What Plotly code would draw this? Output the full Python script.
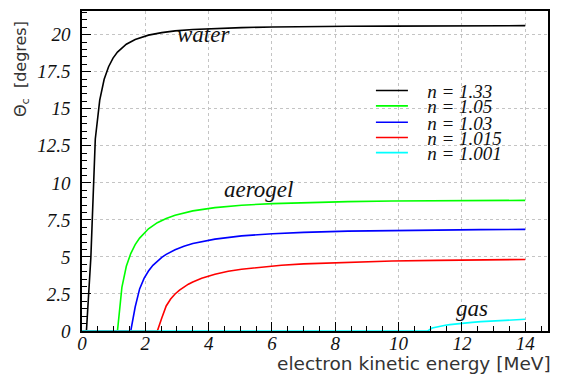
import plotly.graph_objects as go

# Cherenkov half-angle (degrees) versus electron kinetic energy (MeV)
t_water = [0, 0.14, 0.28, 0.42, 0.56, 0.70, 0.84, 0.98, 1.12, 1.26, 1.40, 1.68, 2.10, 2.52,
           2.94, 3.50, 4.20, 5.04, 6.02, 7.00, 8.40, 9.80, 11.20, 12.60, 14.00]
th_water = [0, 0, 4.97, 12.96, 15.59, 16.99, 17.84, 18.42, 18.83, 19.13, 19.36, 19.68, 19.97, 20.14,
            20.26, 20.35, 20.43, 20.48, 20.52, 20.55, 20.57, 20.58, 20.59, 20.60, 20.61]

t_n105 = [0, 1.12, 1.26, 1.40, 1.54, 1.68, 1.82, 1.96, 2.10, 2.38, 2.66, 2.94, 3.50,
          4.20, 5.04, 6.02, 7.00, 8.40, 9.80, 11.20, 12.60, 14.00]
th_n105 = [0, 0, 2.95, 4.37, 5.23, 5.83, 6.27, 6.62, 6.90, 7.31, 7.60, 7.82, 8.11,
           8.33, 8.49, 8.60, 8.67, 8.73, 8.77, 8.79, 8.81, 8.82]

t_n103 = [0, 1.54, 1.68, 1.82, 1.96, 2.10, 2.24, 2.38, 2.52, 2.66, 2.94, 3.22, 3.50,
          4.20, 5.04, 6.02, 7.00, 8.40, 9.80, 11.20, 12.60, 14.00]
th_n103 = [0, 0, 1.62, 2.84, 3.55, 4.05, 4.43, 4.73, 4.97, 5.17, 5.49, 5.72, 5.90,
           6.20, 6.42, 6.56, 6.66, 6.74, 6.79, 6.82, 6.84, 6.86]

t_n1015 = [0, 2.38, 2.52, 2.66, 2.80, 2.94, 3.08, 3.22, 3.36, 3.50, 3.78, 4.20, 4.62,
           5.04, 5.60, 6.30, 7.00, 8.40, 9.80, 11.20, 12.60, 14.00]
th_n1015 = [0, 0, 0.88, 1.69, 2.16, 2.50, 2.76, 2.98, 3.16, 3.31, 3.56, 3.83, 4.03,
            4.17, 4.31, 4.44, 4.53, 4.65, 4.72, 4.77, 4.81, 4.83]

t_gas = [0, 10.92, 11.06, 11.20, 11.34, 11.48, 11.62, 11.76, 11.90, 12.04, 12.32, 12.60,
         12.88, 13.16, 13.44, 13.72, 14.00]
th_gas = [0, 0, 0.20, 0.28, 0.34, 0.39, 0.43, 0.47, 0.50, 0.53, 0.58, 0.63,
          0.67, 0.70, 0.73, 0.76, 0.79]

names = ["n = 1.33", "n = 1.05", "n = 1.03", "n = 1.015", "n = 1.001"]
colors = ["#000000", "#00ff00", "#0000ff", "#ff0000", "#00ffff"]
series_t = [t_water, t_n105, t_n103, t_n1015, t_gas]
series_th = [th_water, th_n105, th_n103, th_n1015, th_gas]

x_ticks = [0, 2, 4, 6, 8, 10, 12, 14]
x_labels = ["0", "2", "4", "6", "8", "10", "12", "14"]
y_ticks = [0, 2.5, 5, 7.5, 10, 12.5, 15, 17.5, 20]
y_labels = ["0", "2.5", "5", "7.5", "10", "12.5", "15", "17.5", "20"]

legend_ids = ["legend", "legend2", "legend3", "legend4", "legend5"]
legend_y = [0.751, 0.703, 0.652, 0.604, 0.557]

SERIF = "Liberation Serif"
SANS = "DejaVu Sans"
NBSP = "\u00a0"


def it(s):
    return "<i>" + s + "</i>"


fig = go.Figure()
for t, th, name, col, lid in zip(series_t, series_th, names, colors, legend_ids):
    fig.add_trace(go.Scatter(x=t, y=th, mode="lines", name=NBSP * 3 + it(name),
                             line=dict(color=col, width=1.6), legend=lid))


def axis_style():
    return dict(
        showline=True, linecolor="black", linewidth=1.5, mirror=True,
        ticks="inside", ticklen=9, tickwidth=1, tickcolor="black",
        showgrid=True, gridcolor="#c4c4c4", gridwidth=1, griddash="dot",
        zeroline=False, tickfont=dict(family=SERIF, size=19, color="#111111"),
        minor=dict(ticks="inside", ticklen=5, tickwidth=1, tickcolor="black",
                   dtick=0.5, showgrid=False),
    )


fig.update_xaxes(range=[0, 14.72], tickvals=x_ticks, ticktext=[it(s) for s in x_labels],
                 ticklabelstandoff=-6, **axis_style())
fig.update_yaxes(range=[0, 21.6], tickvals=y_ticks, ticktext=[it(s) for s in y_labels],
                 ticklabelstandoff=6, **axis_style())

legends = {}
for lid, ly in zip(legend_ids, legend_y):
    legends[lid] = dict(x=0.62, y=ly, xanchor="left", yanchor="middle",
                        bgcolor="rgba(0,0,0,0)", borderwidth=0, itemwidth=32,
                        font=dict(family=SERIF, size=19, color="#111111"))

label_font = dict(family=SERIF, size=23, color="#111111")
fig.update_layout(
    width=566, height=376,
    margin=dict(l=82, r=18, t=9, b=45),
    plot_bgcolor="white", paper_bgcolor="white",
    font=dict(family=SERIF, size=19, color="#111111"),
    showlegend=True,
    annotations=[
        dict(x=3.84, y=20.0, xref="x", yref="y", text=it("water"), showarrow=False, font=label_font),
        dict(x=5.56, y=9.55, xref="x", yref="y", text=it("aerogel"), showarrow=False, font=label_font),
        dict(x=12.31, y=1.5, xref="x", yref="y", text=it("gas"), showarrow=False, font=label_font),
        dict(x=1.011, y=-0.10, xref="paper", yref="paper", xanchor="right", yanchor="middle",
             text="electron kinetic energy [MeV]", showarrow=False,
             font=dict(family=SANS, size=18.5, color="#333333")),
        dict(x=-0.13, y=0.82, xref="paper", yref="paper", xanchor="center", yanchor="middle",
             text="Θ<sub>c</sub>  [degres]", textangle=-90, showarrow=False,
             font=dict(family=SANS, size=16, color="#333333")),
    ],
    **legends,
)

fig.write_html("out.html")
